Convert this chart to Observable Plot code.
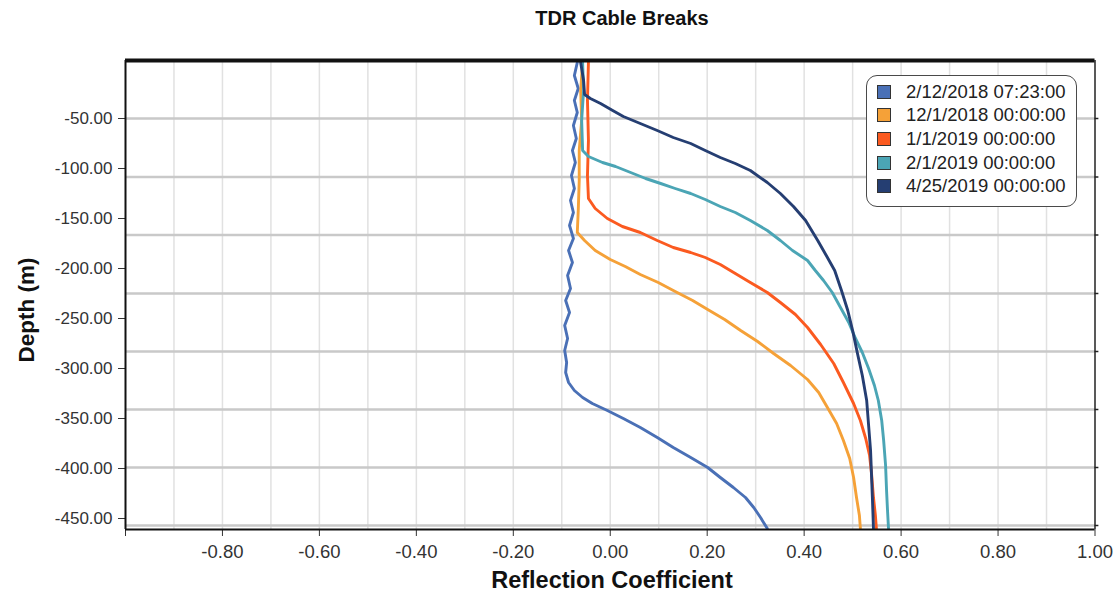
<!DOCTYPE html>
<html>
<head>
<meta charset="utf-8">
<script src="https://cdn.jsdelivr.net/npm/d3@7"></script>
<script src="https://cdn.jsdelivr.net/npm/@observablehq/plot@0.6"></script>
<style>
  html, body { margin: 0; padding: 0; background: #fff; }
  #wrap { position: relative; width: 1118px; height: 596px; font-family: "Liberation Sans", Arial, sans-serif; }
  #wrap svg { position: absolute; left: 0; top: 0; }
  .title { position: absolute; left: 0; width: 1244px; top: 7px; text-align: center; font-weight: bold; font-size: 20px; color: #111; }
  .xlabel { position: absolute; left: 0; width: 1224px; top: 567px; text-align: center; font-weight: bold; font-size: 23.5px; color: #111; }
  .ylabel { position: absolute; left: 27px; top: 310px; transform: translate(-50%, -50%) rotate(-90deg); white-space: nowrap; font-weight: bold; font-size: 22.5px; color: #111; }
  .legend { position: absolute; left: 866px; top: 75px; width: 211px; height: 132px; border: 1.5px solid #4a4a4a; border-radius: 11px; background: #fff; box-sizing: border-box; padding-top: 4px; }
  .legend .row { height: 23.6px; display: flex; align-items: center; font-size: 18.5px; color: #222; white-space: nowrap; }
  .legend .sw { width: 12px; height: 12px; border: 1.2px solid #333; margin-left: 10px; margin-right: 15px; flex: none; }
</style>
</head>
<body>
<div id="wrap"></div>
<script>
// ---- data ----
const seriesNames = ["2/12/2018 07:23:00", "12/1/2018 00:00:00", "1/1/2019 00:00:00", "2/1/2019 00:00:00", "4/25/2019 00:00:00"];
const seriesColors = ["#4a70b6", "#f5a138", "#fb5a20", "#4ba5b5", "#253e72"];

// [reflection coefficient, depth (m)]
const feb2018 = [
  [-0.068, 6], [-0.074, -7], [-0.066, -20], [-0.074, -32], [-0.068, -44], [-0.076, -57], [-0.070, -70],
  [-0.078, -82], [-0.072, -94], [-0.080, -107], [-0.074, -120], [-0.082, -132], [-0.076, -144],
  [-0.084, -157], [-0.076, -170], [-0.086, -182], [-0.078, -194], [-0.088, -207], [-0.082, -220],
  [-0.092, -232], [-0.084, -244], [-0.094, -257], [-0.088, -270], [-0.094, -282], [-0.090, -294],
  [-0.092, -304], [-0.086, -314], [-0.074, -322], [-0.057, -329], [-0.037, -335], [-0.006, -342],
  [0.027, -350], [0.062, -359], [0.097, -369], [0.130, -379], [0.166, -389], [0.201, -399],
  [0.227, -409], [0.254, -419], [0.279, -429], [0.296, -439], [0.310, -449], [0.324, -460]
];
const dec2018 = [
  [-0.057, 6], [-0.061, -22], [-0.059, -52], [-0.064, -82], [-0.064, -112], [-0.066, -142], [-0.068, -164],
  [-0.053, -172], [-0.031, -182], [0.000, -191], [0.031, -198], [0.062, -206], [0.099, -214],
  [0.134, -223], [0.170, -232], [0.201, -241], [0.236, -251], [0.269, -262], [0.304, -273],
  [0.337, -285], [0.372, -297], [0.407, -311], [0.430, -324], [0.448, -339], [0.467, -355],
  [0.481, -372], [0.494, -390], [0.502, -409], [0.508, -429], [0.514, -447], [0.516, -460]
];
const jan2019 = [
  [-0.045, 6], [-0.047, -32], [-0.045, -72], [-0.047, -107], [-0.045, -130], [-0.031, -140], [-0.006, -150],
  [0.025, -158], [0.062, -164], [0.097, -172], [0.130, -179], [0.166, -184], [0.196, -189],
  [0.227, -196], [0.258, -205], [0.289, -214], [0.324, -224], [0.351, -234], [0.382, -246],
  [0.407, -259], [0.434, -276], [0.461, -295], [0.481, -314], [0.502, -335], [0.516, -352],
  [0.527, -370], [0.535, -387], [0.539, -405], [0.543, -429], [0.547, -447], [0.549, -460]
];
const feb2019 = [
  [-0.057, 6], [-0.055, -22], [-0.059, -52], [-0.057, -82], [-0.045, -88], [-0.016, -94], [0.011, -98],
  [0.042, -104], [0.073, -110], [0.104, -115], [0.134, -120], [0.166, -125], [0.196, -131],
  [0.227, -138], [0.258, -144], [0.289, -152], [0.324, -162], [0.351, -172], [0.376, -182],
  [0.407, -192], [0.423, -202], [0.440, -212], [0.458, -224], [0.475, -239], [0.492, -254],
  [0.506, -270], [0.520, -284], [0.533, -300], [0.545, -317], [0.553, -332], [0.560, -352],
  [0.564, -372], [0.568, -397], [0.570, -422], [0.572, -442], [0.574, -460]
];
const apr2019 = [
  [-0.061, 6], [-0.055, -12], [-0.053, -26], [-0.041, -30], [-0.020, -35], [0.005, -42], [0.027, -48],
  [0.062, -55], [0.097, -62], [0.130, -69], [0.166, -75], [0.196, -82], [0.227, -89],
  [0.258, -95], [0.289, -102], [0.324, -114], [0.351, -125], [0.378, -138], [0.403, -152],
  [0.428, -172], [0.448, -189], [0.463, -202], [0.477, -222], [0.490, -242], [0.500, -262],
  [0.510, -285], [0.520, -307], [0.529, -332], [0.533, -357], [0.537, -382], [0.539, -407],
  [0.541, -432], [0.543, -460]
];
const seriesData = [feb2018, dec2018, jan2019, feb2019, apr2019];

const xTicks = [-1, -0.8, -0.6, -0.4, -0.2, 0, 0.2, 0.4, 0.6, 0.8, 1];
const xGrid = [-0.9, -0.8, -0.7, -0.6, -0.5, -0.4, -0.3, -0.2, -0.1, 0, 0.1, 0.2, 0.3, 0.4, 0.5, 0.6, 0.7, 0.8, 0.9];
const yTicks = [-50, -100, -150, -200, -250, -300, -350, -400, -450];
const yGrid = [-50, -108.5, -166.5, -225, -283, -341, -399, -457];
const xDomain = [-1, 1];
const yDomain = [-461, 8];

// ---- chart ----
const lineMarks = seriesData.map((s, i) =>
  Plot.line(s, {x: d => d[0], y: d => d[1], stroke: seriesColors[i], strokeWidth: 2.9, strokeLinejoin: "round"})
);

const chart = Plot.plot({
  width: 1118,
  height: 596,
  marginTop: 60,
  marginBottom: 67,
  marginLeft: 125,
  marginRight: 23.5,
  style: {fontFamily: "'Liberation Sans', Arial, sans-serif", fontSize: "17px", color: "#333", background: "transparent"},
  x: {domain: xDomain, ticks: xTicks, tickFormat: d => d === -1 ? "" : d.toFixed(2), tickSize: 7, tickPadding: 8, label: null},
  y: {domain: yDomain, ticks: yTicks, tickFormat: d => d.toFixed(2), tickSize: 7, tickPadding: 6, label: null},
  marks: [
    Plot.ruleX(xGrid, {stroke: "#e1e1e1", strokeWidth: 1.5}),
    Plot.ruleY(yGrid, {stroke: "#c9c9c9", strokeWidth: 2.5}),
    ...lineMarks,
    Plot.ruleY(yGrid, {x1: xDomain[1], x2: xDomain[1] + 0.008, stroke: "#222", strokeWidth: 1.5}),
    Plot.ruleX([xDomain[0]], {stroke: "#111", strokeWidth: 2}),
    Plot.ruleX([xDomain[1]], {stroke: "#222", strokeWidth: 1.5}),
    Plot.ruleY([yDomain[0]], {stroke: "#111", strokeWidth: 2}),
    Plot.ruleY([yDomain[1]], {stroke: "#111", strokeWidth: 4})
  ]
});

// slightly larger x tick labels, as in the reference
d3.select(chart)
  .selectAll('g[aria-label="x-axis"] text, g[aria-label="x-axis tick label"] text')
  .attr("font-size", "18.5px");

const wrap = document.getElementById("wrap");
wrap.appendChild(chart);

const title = document.createElement("div");
title.className = "title";
title.textContent = "TDR Cable Breaks";
wrap.appendChild(title);

const xl = document.createElement("div");
xl.className = "xlabel";
xl.textContent = "Reflection Coefficient";
wrap.appendChild(xl);

const yl = document.createElement("div");
yl.className = "ylabel";
yl.textContent = "Depth (m)";
wrap.appendChild(yl);

const legend = document.createElement("div");
legend.className = "legend";
seriesNames.forEach((name, i) => {
  const row = document.createElement("div");
  row.className = "row";
  const sw = document.createElement("span");
  sw.className = "sw";
  sw.style.background = seriesColors[i];
  const tx = document.createElement("span");
  tx.textContent = name;
  row.appendChild(sw);
  row.appendChild(tx);
  legend.appendChild(row);
});
wrap.appendChild(legend);
</script>
</body>
</html>
